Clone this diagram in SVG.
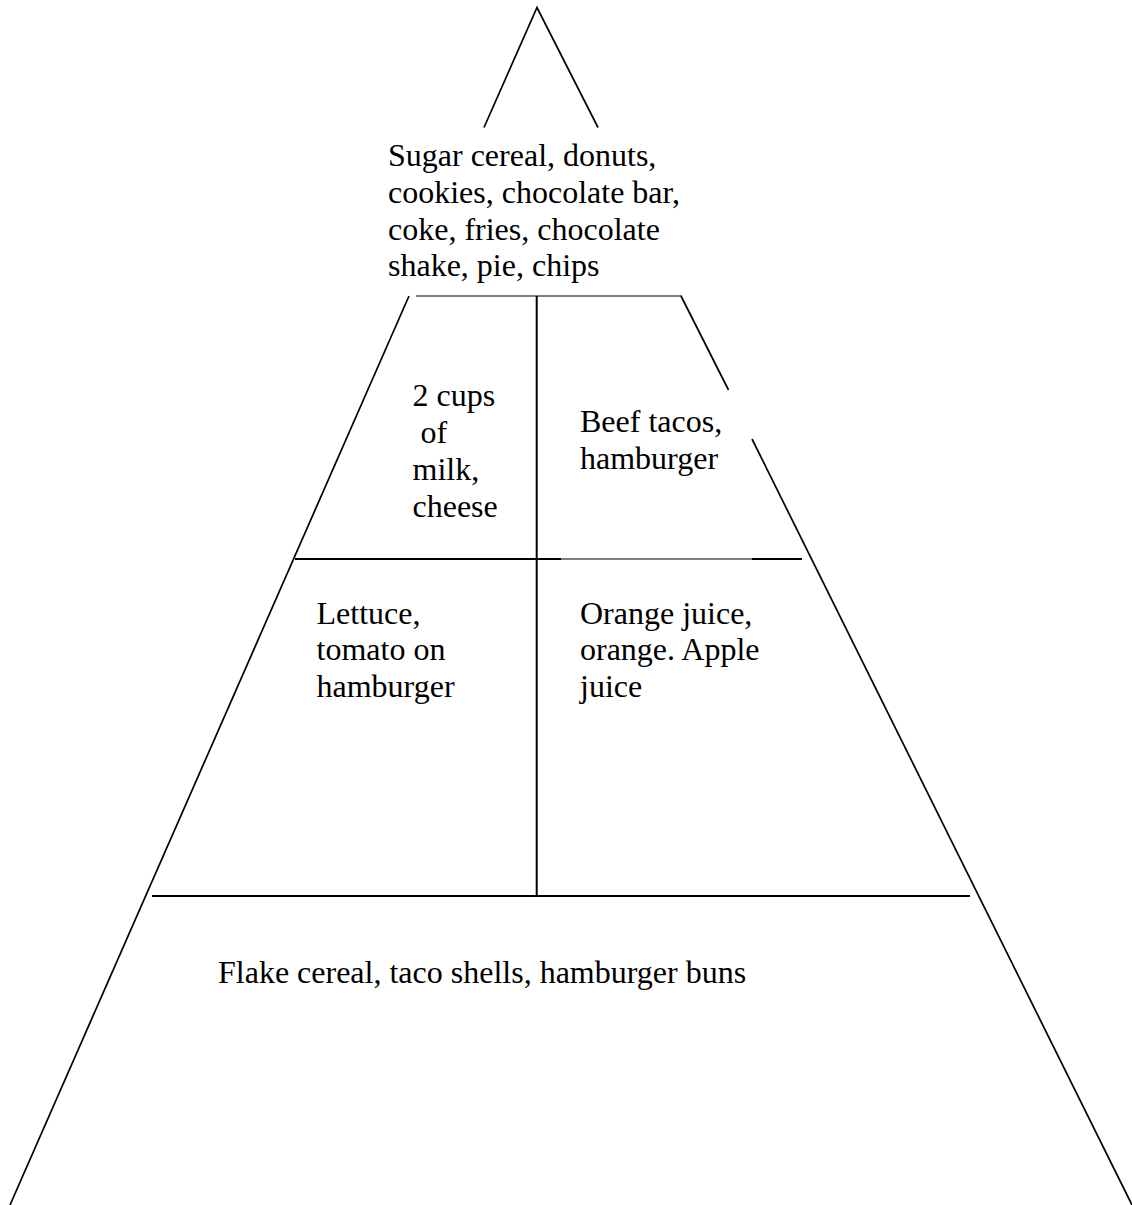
<svg xmlns="http://www.w3.org/2000/svg" width="1132" height="1205" viewBox="0 0 1132 1205">
<style>
.ln{fill:none;stroke:#000;stroke-width:1.7;stroke-linecap:butt}
.hz{fill:none;stroke:#000;stroke-width:2}
.th{fill:none;stroke:#000;stroke-width:1.2}
.t{font-family:"Liberation Serif","Times New Roman",serif;font-size:32px;fill:#000}
</style>
<rect width="1132" height="1205" fill="#fff"/>
<g id="outline">
<polyline class="ln" points="484,127.5 537,7.5 598,127.5"/>
<line class="ln" x1="409" y1="296" x2="10" y2="1205"/>
<line class="ln" x1="681" y1="296" x2="728.5" y2="390"/>
<line class="ln" x1="752" y1="439" x2="1132" y2="1205"/>
<line class="th" x1="416" y1="296" x2="682" y2="296"/>
<line class="hz" x1="536.7" y1="296" x2="536.7" y2="896"/>
<line class="hz" x1="295" y1="559" x2="561" y2="559"/>
<line class="th" x1="561" y1="559" x2="752" y2="559"/>
<line class="hz" x1="752" y1="559" x2="802" y2="559"/>
<line class="hz" x1="152" y1="896" x2="970" y2="896"/>
</g>
<g id="tier-top">
<text class="t" x="388" y="166">Sugar cereal, donuts,</text>
<text class="t" x="388" y="203">cookies, chocolate bar,</text>
<text class="t" x="388" y="239.5">coke, fries, chocolate</text>
<text class="t" x="388" y="276">shake, pie, chips</text>
</g>
<g id="dairy">
<text class="t" x="412.5" y="406">2 cups</text>
<text class="t" x="412.5" y="443" xml:space="preserve"> of</text>
<text class="t" x="412.5" y="480">milk,</text>
<text class="t" x="412.5" y="517">cheese</text>
</g>
<g id="protein">
<text class="t" x="580" y="432">Beef tacos,</text>
<text class="t" x="580" y="468.5">hamburger</text>
</g>
<g id="vegetables">
<text class="t" x="316.5" y="623.5">Lettuce,</text>
<text class="t" x="316.5" y="660">tomato on</text>
<text class="t" x="316.5" y="697">hamburger</text>
</g>
<g id="fruit">
<text class="t" x="580" y="623.5">Orange juice,</text>
<text class="t" x="580" y="660">orange. Apple</text>
<text class="t" x="580" y="697">juice</text>
</g>
<g id="grains">
<text class="t" x="218" y="983">Flake cereal, taco shells, hamburger buns</text>
</g>
</svg>
